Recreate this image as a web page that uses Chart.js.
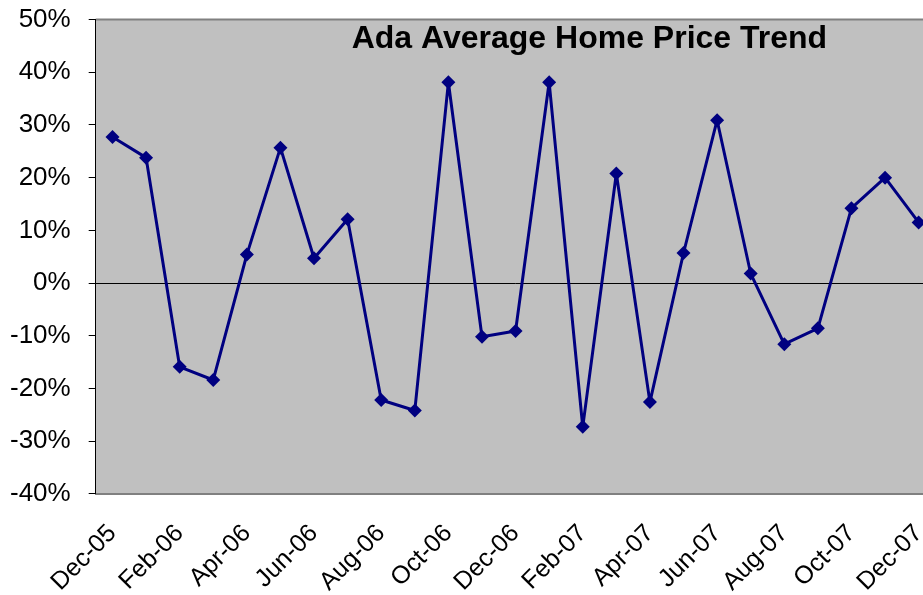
<!DOCTYPE html>
<html lang="en">
<head>
  <meta charset="UTF-8">
  <title>Ada Average Home Price Trend</title>
  <script src="https://cdn.jsdelivr.net/npm/chart.js"></script>
  <style>
    html, body { margin: 0; padding: 0; background: #fff; overflow: hidden; }
    #priceChart { display: block; margin-left: -8px; margin-top: -14px; }
  </style>
</head>
<body>

  <canvas id="priceChart" width="973" height="636"></canvas>

  <script>
    // month labels, Dec-05 .. Dec-07
    const months = [
      'Dec-05', 'Jan-06', 'Feb-06', 'Mar-06', 'Apr-06', 'May-06', 'Jun-06',
      'Jul-06', 'Aug-06', 'Sep-06', 'Oct-06', 'Nov-06', 'Dec-06',
      'Jan-07', 'Feb-07', 'Mar-07', 'Apr-07', 'May-07', 'Jun-07',
      'Jul-07', 'Aug-07', 'Sep-07', 'Oct-07', 'Nov-07', 'Dec-07'
    ];

    // change in average price, percent
    const priceChange = [
      27.7, 23.8, -15.9, -18.4, 5.4, 25.7, 4.7,
      12.1, -22.2, -24.2, 38.1, -10.2, -9.1,
      38.1, -27.3, 20.8, -22.6, 5.7, 30.9,
      1.8, -11.6, -8.6, 14.2, 20.0, 11.5
    ];

    const yMin = -40;
    const yMax = 50;
    const yStep = 10;

    const chartTitle = 'Ada Average Home Price Trend';
    const fontFamily = '"Liberation Sans", Arial, sans-serif';

    // grey plot area + top border, title inside the plot
    const plotArea = {
      id: 'plotArea',
      beforeDraw(chart) {
        const { ctx, chartArea: a } = chart;
        ctx.save();
        ctx.fillStyle = '#C0C0C0';
        ctx.fillRect(a.left, a.top, a.right - a.left, a.bottom - a.top);
        ctx.strokeStyle = '#808080';
        ctx.lineWidth = 2;
        ctx.beginPath();
        ctx.moveTo(a.left, a.top);
        ctx.lineTo(a.right, a.top);
        ctx.stroke();
        ctx.restore();
      },
      afterDraw(chart) {
        const { ctx, chartArea: a } = chart;
        ctx.save();
        ctx.fillStyle = '#000';
        ctx.font = 'bold 32px ' + fontFamily;
        ctx.textAlign = 'left';
        ctx.textBaseline = 'alphabetic';
        ctx.fillText(chartTitle, a.left + 256, a.top + 28);
        ctx.restore();
      }
    };

    const ctx = document.getElementById('priceChart').getContext('2d');
    new Chart(ctx, {
      type: 'line',
      data: {
        labels: months,
        datasets: [{
          data: priceChange,
          borderColor: '#000080',
          borderWidth: 3,
          borderJoinStyle: 'round',
          backgroundColor: '#000080',
          pointStyle: 'rectRot',
          pointRadius: 7,
          pointBackgroundColor: '#000080',
          pointBorderColor: '#000080',
          pointBorderWidth: 0,
          tension: 0,
          fill: false
        }]
      },
      options: {
        responsive: false,
        animation: false,
        layout: { padding: { left: 0, right: 0, top: 8, bottom: 0 } },
        plugins: {
          legend: { display: false },
          tooltip: { enabled: false },
          title: { display: false }
        },
        scales: {
          x: {
            offset: true,
            grid: { drawOnChartArea: false, drawTicks: false },
            border: { color: '#808080', width: 2 },
            ticks: {
              autoSkip: false,
              minRotation: 45,
              maxRotation: 45,
              padding: 25,
              color: '#000',
              font: { family: fontFamily, size: 25 },
              callback: (v, i) => (i % 2 === 0 ? months[i] : '')
            }
          },
          y: {
            min: yMin,
            max: yMax,
            grid: {
              color: c => (c.tick.value === 0 ? '#000' : 'rgba(0,0,0,0)'),
              lineWidth: 1,
              tickColor: '#000',
              tickLength: 7
            },
            border: { color: '#000', width: 1 },
            ticks: {
              stepSize: yStep,
              padding: 18,
              color: '#000',
              font: { family: fontFamily, size: 26 },
              callback: v => v + '%'
            }
          }
        }
      },
      plugins: [plotArea]
    });
  </script>

</body>
</html>
